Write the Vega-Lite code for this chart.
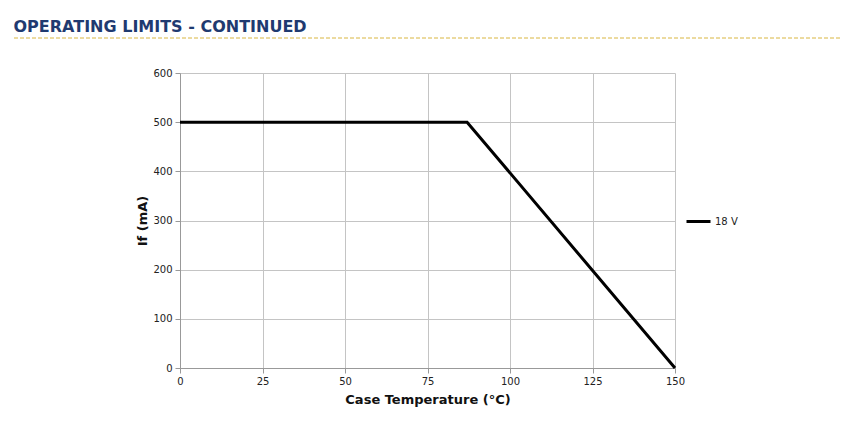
{
  "$schema": "https://vega.github.io/schema/vega-lite/v6.json",
  "padding": {"left": 13, "top": 19, "right": 10, "bottom": 10},
  "background": "white",
  "title": {
    "text": "OPERATING LIMITS - CONTINUED",
    "anchor": "start",
    "font": "DejaVu Sans",
    "fontSize": 16,
    "fontWeight": "bold",
    "color": "#1f3a70",
    "offset": 2
  },
  "spacing": 35,
  "bounds": "flush",
  "center": true,
  "resolve": {"scale": {"color": "independent"}, "legend": {"color": "independent"}},
  "config": {
    "view": {"stroke": null},
    "font": "DejaVu Sans"
  },
  "vconcat": [
    {
      "width": 827,
      "height": 1,
      "data": {"values": [{"a": 0, "b": 1}]},
      "mark": {"type": "rule", "stroke": "#d9b640", "strokeWidth": 1, "strokeDash": [4, 2]},
      "encoding": {
        "x": {"field": "a", "type": "quantitative", "scale": {"domain": [0, 1]}, "axis": null},
        "x2": {"field": "b"},
        "y": {"datum": 0, "type": "quantitative", "scale": {"domain": [0, 1]}, "axis": null}
      }
    },
    {
      "width": 495,
      "height": 295,
      "data": {
        "values": [
          {"temp": 0, "current": 500, "series": "18 V"},
          {"temp": 87, "current": 500, "series": "18 V"},
          {"temp": 150, "current": 0, "series": "18 V"}
        ]
      },
      "mark": {"type": "line", "strokeWidth": 3},
      "encoding": {
        "x": {
          "field": "temp",
          "type": "quantitative",
          "title": "Case Temperature (°C)",
          "scale": {"domain": [0, 150], "nice": false},
          "axis": {
            "values": [0, 25, 50, 75, 100, 125, 150],
            "labelFlush": false,
            "grid": true,
            "gridColor": "#c4c4c4",
            "domainColor": "#999999",
            "tickColor": "#999999",
            "tickSize": 5,
            "labelFontSize": 10,
            "labelColor": "#222222",
            "labelPadding": 3,
            "titleFontSize": 13,
            "titleFontWeight": "bold",
            "titleColor": "#111111",
            "titlePadding": 7
          }
        },
        "y": {
          "field": "current",
          "type": "quantitative",
          "title": "If (mA)",
          "scale": {"domain": [0, 600], "nice": false},
          "axis": {
            "values": [0, 100, 200, 300, 400, 500, 600],
            "labelFlush": false,
            "grid": true,
            "gridColor": "#c4c4c4",
            "domainColor": "#999999",
            "tickColor": "#999999",
            "tickSize": 5,
            "labelFontSize": 10,
            "labelColor": "#222222",
            "labelPadding": 3,
            "titleFontSize": 13,
            "titleFontWeight": "bold",
            "titleColor": "#111111",
            "titlePadding": 3
          }
        },
        "color": {
          "field": "series",
          "type": "nominal",
          "scale": {"range": ["#000000"]},
          "legend": {
            "title": null,
            "orient": "none",
            "legendX": 505,
            "legendY": 135,
            "symbolType": "stroke",
            "symbolStrokeWidth": 3,
            "symbolSize": 576,
            "labelFontSize": 10,
            "labelColor": "#222222",
            "labelOffset": 3
          }
        }
      }
    }
  ]
}
